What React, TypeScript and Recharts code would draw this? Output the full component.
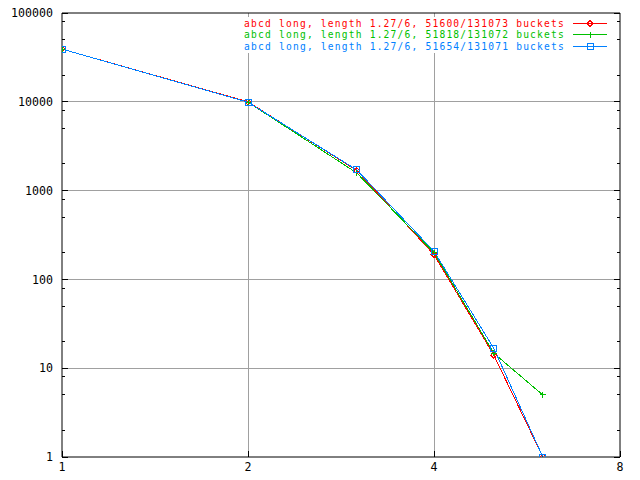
import { Legend, Line, LineChart, ReferenceLine, XAxis, YAxis } from 'recharts';

const lengths = [1, 2, 3, 4, 5, 6];
const run1 = [39200, 10000, 1680, 190, 14, 1];
const run2 = [39300, 9900, 1580, 200, 14.7, 5];
const run3 = [39200, 9900, 1710, 207, 16.7, 1];

const seriesNames = [
  'abcd long, length 1.27/6, 51600/131073 buckets',
  'abcd long, length 1.27/6, 51818/131072 buckets',
  'abcd long, length 1.27/6, 51654/131071 buckets',
];
const colours = ['#ff0000', '#00c000', '#0080ff'];

const xTicks = [1, 2, 4, 8];
const yMajor = [1, 10, 100, 1000, 10000, 100000];
const yTicks = [
  1, 2, 5, 8, 10, 20, 50, 80, 100, 200, 500, 800, 1000, 2000, 5000, 8000,
  10000, 20000, 50000, 80000, 100000,
];
const xGrid = [2, 4];
const yGrid = [10, 100, 1000, 10000];

const data = lengths.map((n, i) => ({ n, a: run1[i], b: run2[i], c: run3[i] }));

const FONT = '"DejaVu Sans Mono", monospace';
const FS = 11.6;
const KEY_FS = 9.6;
const GRID = '#a0a0a0';

// gnuplot-ish point types: diamond, plus, box
function marker(kind: number, cx: number, cy: number, colour: string, key?: any) {
  if (kind === 0)
    return (
      <path
        key={key}
        d={`M${cx - 3},${cy}L${cx},${cy - 3}L${cx + 3},${cy}L${cx},${cy + 3}Z`}
        fill="none"
        stroke={colour}
        shapeRendering="crispEdges"
      />
    );
  if (kind === 1)
    return (
      <path
        key={key}
        d={`M${cx - 3},${cy}H${cx + 3}M${cx},${cy - 3}V${cy + 3}`}
        stroke={colour}
        shapeRendering="crispEdges"
      />
    );
  return (
    <rect
      key={key}
      x={cx - 3}
      y={cy - 3}
      width={6}
      height={6}
      fill="none"
      stroke={colour}
      shapeRendering="crispEdges"
    />
  );
}

function LeftTick({ x, y, payload }: any) {
  const major = yMajor.includes(payload.value);
  return (
    <g>
      <line x1={x + 9} x2={x + 9 + (major ? 6 : 3)} y1={y} y2={y} stroke="#000" shapeRendering="crispEdges" />
      {major && (
        <text x={x} y={y} dy="0.36em" textAnchor="end" fontFamily={FONT} fontSize={FS} fill="#000">
          {payload.value}
        </text>
      )}
    </g>
  );
}

function RightTick({ x, y, payload }: any) {
  const major = yMajor.includes(payload.value);
  return <line x1={x} x2={x - (major ? 6 : 3)} y1={y} y2={y} stroke="#000" shapeRendering="crispEdges" />;
}

function BottomTick({ x, y, payload }: any) {
  return (
    <g>
      <line x1={x} x2={x} y1={y} y2={y - 6} stroke="#000" shapeRendering="crispEdges" />
      <text x={x} y={y + 6} dy="0.71em" textAnchor="middle" fontFamily={FONT} fontSize={FS} fill="#000">
        {payload.value}
      </text>
    </g>
  );
}

function TopTick({ x, y }: any) {
  return <line x1={x} x2={x} y1={y} y2={y + 6} stroke="#000" shapeRendering="crispEdges" />;
}

function Key() {
  return (
    <svg width={372} height={36} style={{ display: 'block', background: '#fff' }}>
      {seriesNames.map((name, i) => {
        const cy = 6.5 + i * 11.4;
        return (
          <g key={name}>
            <text
              x={325}
              y={cy}
              dy="0.36em"
              textAnchor="end"
              fontFamily={FONT}
              fontSize={KEY_FS}
              letterSpacing={1.2}
              fill={colours[i]}
            >
              {name}
            </text>
            <line x1={333} x2={367} y1={cy} y2={cy} stroke={colours[i]} shapeRendering="crispEdges" />
            {marker(i, 350, cy, colours[i])}
          </g>
        );
      })}
    </svg>
  );
}

export default function App() {
  const keys = ['a', 'b', 'c'];
  return (
    <div style={{ position: 'absolute', left: 0, top: 0, width: 640, height: 480, background: '#fff' }}>
      <LineChart width={640} height={480} data={data} margin={{ top: 0, right: 0, bottom: 0, left: 0 }}>
        <XAxis
          dataKey="n"
          type="number"
          scale="log"
          domain={[1, 8]}
          ticks={xTicks}
          height={23}
          tickSize={0}
          tickMargin={0}
          tickLine={false}
          axisLine={{ stroke: '#000' }}
          tick={<BottomTick />}
          allowDataOverflow
        />
        <XAxis
          xAxisId="top"
          orientation="top"
          type="number"
          scale="log"
          domain={[1, 8]}
          ticks={xTicks}
          height={13}
          tickSize={0}
          tickMargin={0}
          tickLine={false}
          axisLine={{ stroke: '#000' }}
          tick={<TopTick />}
          allowDataOverflow
        />
        <YAxis
          type="number"
          scale="log"
          domain={[1, 100000]}
          ticks={yTicks}
          width={62}
          tickSize={0}
          tickMargin={9}
          tickLine={false}
          axisLine={{ stroke: '#000' }}
          tick={<LeftTick />}
          interval={0}
          allowDataOverflow
        />
        <YAxis
          yAxisId="right"
          orientation="right"
          type="number"
          scale="log"
          domain={[1, 100000]}
          ticks={yTicks}
          width={20}
          tickSize={0}
          tickMargin={0}
          tickLine={false}
          axisLine={{ stroke: '#000' }}
          tick={<RightTick />}
          interval={0}
          allowDataOverflow
        />
        {xGrid.map((v) => (
          <ReferenceLine key={'x' + v} x={v} stroke={GRID} shapeRendering="crispEdges" />
        ))}
        {yGrid.map((v) => (
          <ReferenceLine key={'y' + v} y={v} stroke={GRID} shapeRendering="crispEdges" />
        ))}
        <Legend
          layout="vertical"
          align="center"
          verticalAlign="middle"
          wrapperStyle={{ top: 17, left: 240, width: 372 }}
          content={() => <Key />}
        />
        {keys.map((k, i) => (
          <Line
            key={k}
            dataKey={k}
            name={seriesNames[i]}
            stroke={colours[i]}
            strokeWidth={1}
            shapeRendering="crispEdges"
            isAnimationActive={false}
            activeDot={false}
            dot={(p: any) => marker(i, p.cx, p.cy, colours[i], p.index)}
          />
        ))}
      </LineChart>
    </div>
  );
}
